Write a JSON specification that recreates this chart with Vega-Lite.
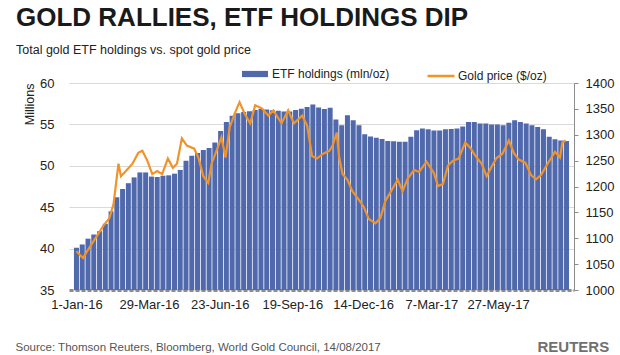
{
  "$schema": "https://vega.github.io/schema/vega-lite/v6.json",
  "width": 505,
  "height": 207,
  "autosize": {"type": "none"},
  "padding": {"left": 69, "top": 83, "right": 46, "bottom": 65},
  "background": "white",
  "config": {
    "font": "Liberation Sans",
    "view": {"stroke": null},
    "axis": {"labelFont": "Liberation Sans", "titleFont": "Liberation Sans", "labelColor": "#222222", "titleColor": "#222222"},
    "legend": {"labelFont": "Liberation Sans", "labelFontSize": 12, "labelColor": "#222222"}
  },
  "title": {
    "text": "GOLD RALLIES, ETF HOLDINGS DIP",
    "subtitle": "Total gold ETF holdings vs. spot gold price",
    "anchor": "start",
    "frame": "group",
    "font": "Liberation Sans",
    "fontSize": 26,
    "fontWeight": "bold",
    "color": "#1a1a1a",
    "subtitleFont": "Liberation Sans",
    "subtitleFontSize": 12.5,
    "subtitleColor": "#222222",
    "subtitlePadding": 13,
    "offset": 5,
    "dx": -53
  },
  "datasets": {
    "etf": [
      {"date": "2016-01-01", "etf": 40.1}, {"date": "2016-01-08", "etf": 40.5}, {"date": "2016-01-15", "etf": 41.2}, {"date": "2016-01-22", "etf": 41.7},
      {"date": "2016-01-29", "etf": 42.1}, {"date": "2016-02-05", "etf": 43.0}, {"date": "2016-02-12", "etf": 44.5}, {"date": "2016-02-19", "etf": 46.2},
      {"date": "2016-02-26", "etf": 47.2}, {"date": "2016-03-04", "etf": 47.9}, {"date": "2016-03-11", "etf": 48.6}, {"date": "2016-03-18", "etf": 49.2},
      {"date": "2016-03-25", "etf": 49.2}, {"date": "2016-04-01", "etf": 48.7}, {"date": "2016-04-08", "etf": 48.65}, {"date": "2016-04-15", "etf": 48.8},
      {"date": "2016-04-22", "etf": 48.85}, {"date": "2016-04-29", "etf": 49.05}, {"date": "2016-05-06", "etf": 49.5}, {"date": "2016-05-13", "etf": 50.6},
      {"date": "2016-05-20", "etf": 51.2}, {"date": "2016-05-27", "etf": 51.55}, {"date": "2016-06-03", "etf": 51.9}, {"date": "2016-06-10", "etf": 52.15},
      {"date": "2016-06-17", "etf": 52.8}, {"date": "2016-06-24", "etf": 54.2}, {"date": "2016-07-01", "etf": 55.3}, {"date": "2016-07-08", "etf": 56.05},
      {"date": "2016-07-15", "etf": 56.35}, {"date": "2016-07-22", "etf": 56.5}, {"date": "2016-07-29", "etf": 56.6}, {"date": "2016-08-05", "etf": 56.75},
      {"date": "2016-08-12", "etf": 56.9}, {"date": "2016-08-19", "etf": 56.8}, {"date": "2016-08-26", "etf": 56.7}, {"date": "2016-09-02", "etf": 56.65},
      {"date": "2016-09-09", "etf": 56.55}, {"date": "2016-09-16", "etf": 56.55}, {"date": "2016-09-23", "etf": 56.75}, {"date": "2016-09-30", "etf": 56.9},
      {"date": "2016-10-07", "etf": 57.1}, {"date": "2016-10-14", "etf": 57.4}, {"date": "2016-10-21", "etf": 57.05}, {"date": "2016-10-28", "etf": 56.85},
      {"date": "2016-11-04", "etf": 57.0}, {"date": "2016-11-11", "etf": 55.6}, {"date": "2016-11-18", "etf": 54.9}, {"date": "2016-11-25", "etf": 56.1},
      {"date": "2016-12-02", "etf": 55.5}, {"date": "2016-12-09", "etf": 54.9}, {"date": "2016-12-16", "etf": 53.8}, {"date": "2016-12-23", "etf": 53.55},
      {"date": "2016-12-30", "etf": 53.4}, {"date": "2017-01-06", "etf": 53.25}, {"date": "2017-01-13", "etf": 53.0}, {"date": "2017-01-20", "etf": 52.95},
      {"date": "2017-01-27", "etf": 52.9}, {"date": "2017-02-03", "etf": 52.9}, {"date": "2017-02-10", "etf": 53.5}, {"date": "2017-02-17", "etf": 54.3},
      {"date": "2017-02-24", "etf": 54.5}, {"date": "2017-03-03", "etf": 54.4}, {"date": "2017-03-10", "etf": 54.25}, {"date": "2017-03-17", "etf": 54.25},
      {"date": "2017-03-24", "etf": 54.4}, {"date": "2017-03-31", "etf": 54.45}, {"date": "2017-04-07", "etf": 54.5}, {"date": "2017-04-14", "etf": 54.75},
      {"date": "2017-04-21", "etf": 55.3}, {"date": "2017-04-28", "etf": 55.3}, {"date": "2017-05-05", "etf": 55.1}, {"date": "2017-05-12", "etf": 55.1},
      {"date": "2017-05-19", "etf": 55.0}, {"date": "2017-05-26", "etf": 55.0}, {"date": "2017-06-02", "etf": 54.9}, {"date": "2017-06-09", "etf": 55.2},
      {"date": "2017-06-16", "etf": 55.5}, {"date": "2017-06-23", "etf": 55.3}, {"date": "2017-06-30", "etf": 55.1}, {"date": "2017-07-07", "etf": 54.9},
      {"date": "2017-07-14", "etf": 54.7}, {"date": "2017-07-21", "etf": 54.4}, {"date": "2017-07-28", "etf": 53.5}, {"date": "2017-08-04", "etf": 53.2},
      {"date": "2017-08-11", "etf": 53.05}, {"date": "2017-08-18", "etf": 53.0}
    ],
    "gold": [
      {"date": "2016-01-01", "gold": 1075}, {"date": "2016-01-05", "gold": 1068}, {"date": "2016-01-09", "gold": 1062}, {"date": "2016-01-14", "gold": 1075},
      {"date": "2016-01-20", "gold": 1090}, {"date": "2016-01-26", "gold": 1105}, {"date": "2016-02-03", "gold": 1125}, {"date": "2016-02-10", "gold": 1139},
      {"date": "2016-02-15", "gold": 1166}, {"date": "2016-02-21", "gold": 1244}, {"date": "2016-02-24", "gold": 1220}, {"date": "2016-03-01", "gold": 1230},
      {"date": "2016-03-09", "gold": 1244}, {"date": "2016-03-16", "gold": 1265}, {"date": "2016-03-21", "gold": 1269}, {"date": "2016-03-27", "gold": 1250},
      {"date": "2016-04-02", "gold": 1224}, {"date": "2016-04-08", "gold": 1230}, {"date": "2016-04-14", "gold": 1224}, {"date": "2016-04-21", "gold": 1254},
      {"date": "2016-04-27", "gold": 1236}, {"date": "2016-05-02", "gold": 1244}, {"date": "2016-05-08", "gold": 1293}, {"date": "2016-05-14", "gold": 1279},
      {"date": "2016-05-23", "gold": 1273}, {"date": "2016-05-28", "gold": 1256}, {"date": "2016-06-03", "gold": 1220}, {"date": "2016-06-09", "gold": 1207},
      {"date": "2016-06-13", "gold": 1244}, {"date": "2016-06-19", "gold": 1269}, {"date": "2016-06-25", "gold": 1295}, {"date": "2016-06-30", "gold": 1256},
      {"date": "2016-07-05", "gold": 1314}, {"date": "2016-07-11", "gold": 1341}, {"date": "2016-07-17", "gold": 1363}, {"date": "2016-07-23", "gold": 1341},
      {"date": "2016-07-30", "gold": 1322}, {"date": "2016-08-05", "gold": 1357}, {"date": "2016-08-13", "gold": 1351}, {"date": "2016-08-21", "gold": 1337},
      {"date": "2016-08-27", "gold": 1347}, {"date": "2016-09-06", "gold": 1322}, {"date": "2016-09-14", "gold": 1347}, {"date": "2016-09-21", "gold": 1322},
      {"date": "2016-10-01", "gold": 1337}, {"date": "2016-10-07", "gold": 1318}, {"date": "2016-10-13", "gold": 1259}, {"date": "2016-10-19", "gold": 1254},
      {"date": "2016-10-26", "gold": 1263}, {"date": "2016-11-03", "gold": 1269}, {"date": "2016-11-07", "gold": 1279}, {"date": "2016-11-12", "gold": 1304},
      {"date": "2016-11-15", "gold": 1256}, {"date": "2016-11-19", "gold": 1224}, {"date": "2016-11-25", "gold": 1213}, {"date": "2016-12-01", "gold": 1191},
      {"date": "2016-12-09", "gold": 1174}, {"date": "2016-12-15", "gold": 1160}, {"date": "2016-12-21", "gold": 1137}, {"date": "2016-12-29", "gold": 1129},
      {"date": "2017-01-04", "gold": 1139}, {"date": "2017-01-10", "gold": 1172}, {"date": "2017-01-17", "gold": 1191}, {"date": "2017-01-25", "gold": 1213},
      {"date": "2017-01-31", "gold": 1191}, {"date": "2017-02-06", "gold": 1215}, {"date": "2017-02-14", "gold": 1232}, {"date": "2017-02-20", "gold": 1228},
      {"date": "2017-03-01", "gold": 1248}, {"date": "2017-03-10", "gold": 1226}, {"date": "2017-03-15", "gold": 1201}, {"date": "2017-03-21", "gold": 1205},
      {"date": "2017-03-27", "gold": 1240}, {"date": "2017-04-02", "gold": 1250}, {"date": "2017-04-09", "gold": 1254}, {"date": "2017-04-17", "gold": 1285},
      {"date": "2017-04-23", "gold": 1275}, {"date": "2017-04-29", "gold": 1260}, {"date": "2017-05-07", "gold": 1244}, {"date": "2017-05-13", "gold": 1220},
      {"date": "2017-05-19", "gold": 1238}, {"date": "2017-05-25", "gold": 1255}, {"date": "2017-06-01", "gold": 1263}, {"date": "2017-06-09", "gold": 1289},
      {"date": "2017-06-15", "gold": 1265}, {"date": "2017-06-21", "gold": 1252}, {"date": "2017-06-29", "gold": 1246}, {"date": "2017-07-06", "gold": 1222},
      {"date": "2017-07-12", "gold": 1214}, {"date": "2017-07-18", "gold": 1222}, {"date": "2017-07-26", "gold": 1244}, {"date": "2017-08-04", "gold": 1267},
      {"date": "2017-08-10", "gold": 1256}, {"date": "2017-08-13", "gold": 1285}, {"date": "2017-08-17", "gold": 1289}
    ]
  },
  "encoding": {
    "x": {
      "field": "date",
      "type": "temporal",
      "scale": {"type": "utc", "domain": [{"year": 2015, "month": 12, "date": 29, "utc": true}, {"year": 2017, "month": 8, "date": 21, "utc": true}]},
      "axis": {
        "values": [
          {"year": 2016, "month": 1, "date": 1, "utc": true},
          {"year": 2016, "month": 3, "date": 29, "utc": true},
          {"year": 2016, "month": 6, "date": 23, "utc": true},
          {"year": 2016, "month": 9, "date": 19, "utc": true},
          {"year": 2016, "month": 12, "date": 14, "utc": true},
          {"year": 2017, "month": 3, "date": 7, "utc": true},
          {"year": 2017, "month": 5, "date": 27, "utc": true}
        ],
        "format": "%-d-%b-%y",
        "labelFontSize": 13,
        "labelPadding": 8,
        "labelFlush": false,
        "labelOverlap": false,
        "ticks": false,
        "grid": false,
        "domainColor": "#8c8c8c",
        "domainWidth": 3,
        "domainDash": [4, 2],
        "title": "Source: Thomson Reuters, Bloomberg, World Gold Council, 14/08/2017",
        "titleX": -54,
        "titleY": 51,
        "titleAlign": "left",
        "titleBaseline": "top",
        "titleFontSize": 11.5,
        "titleFontWeight": "normal",
        "titleColor": "#555555"
      }
    }
  },
  "layer": [
    {
      "data": {"name": "etf"},
      "mark": {"type": "bar", "width": 5, "clip": true},
      "encoding": {
        "y": {
          "field": "etf",
          "type": "quantitative",
          "scale": {"domain": [35, 60], "zero": false, "nice": false},
          "axis": {
            "orient": "left",
            "values": [35, 40, 45, 50, 55, 60],
            "grid": true,
            "gridColor": "#d9d9d9",
            "domain": false,
            "ticks": false,
            "labelPadding": 15,
            "labelFontSize": 13,
            "title": "Millions",
            "titleAnchor": "end",
            "titleFontSize": 12.5,
            "titleFontWeight": "normal",
            "titlePadding": 3
          }
        },
        "y2": {"datum": 35},
        "fill": {
          "datum": "ETF holdings (mln/oz)",
          "scale": {"range": ["#5069ad"]},
          "legend": {
            "orient": "none",
            "legendX": 173,
            "legendY": -22,
            "title": null,
            "symbolType": "M-1,-0.24H1V0.24H-1Z",
            "symbolSize": 676,
            "symbolStrokeWidth": 0,
            "labelOffset": 4
          }
        }
      }
    },
    {
      "data": {"name": "gold"},
      "mark": {"type": "line", "strokeWidth": 2.2, "clip": true},
      "encoding": {
        "y": {
          "field": "gold",
          "type": "quantitative",
          "scale": {"domain": [1000, 1400], "zero": false, "nice": false},
          "axis": {
            "orient": "right",
            "values": [1000, 1050, 1100, 1150, 1200, 1250, 1300, 1350, 1400],
            "format": "d",
            "grid": false,
            "domainColor": "#8c8c8c",
            "tickColor": "#8c8c8c",
            "tickSize": 4,
            "labelPadding": 7,
            "labelFontSize": 13,
            "title": "REUTERS",
            "titleAngle": 0,
            "titleX": -37,
            "titleY": 268,
            "titleAlign": "left",
            "titleBaseline": "alphabetic",
            "titleFontSize": 15,
            "titleFontWeight": "bold",
            "titleColor": "#707070"
          }
        },
        "stroke": {
          "datum": "Gold price ($/oz)",
          "scale": {"range": ["#f0932b"]},
          "legend": {
            "orient": "none",
            "legendX": 357,
            "legendY": -22,
            "title": null,
            "symbolType": "stroke",
            "symbolSize": 729,
            "symbolStrokeWidth": 2.5,
            "labelOffset": 2
          }
        }
      }
    }
  ],
  "resolve": {"scale": {"y": "independent"}}
}
